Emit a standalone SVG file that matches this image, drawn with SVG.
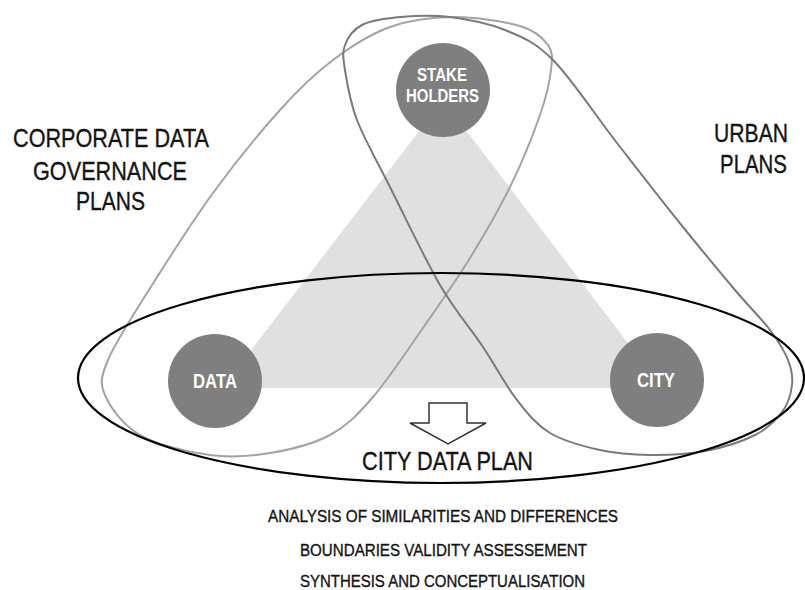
<svg xmlns="http://www.w3.org/2000/svg" width="805" height="590" viewBox="0 0 805 590">
<style>
.lbl{font-family:"Liberation Sans",Arial,sans-serif;fill:#141414;stroke:#141414;stroke-width:0.35;text-anchor:middle}
.big{font-size:25px}
.small{font-size:16px}
.node{fill:#7f7f7f}
.ntxt{font-family:"Liberation Sans",Arial,sans-serif;font-weight:bold;fill:#ffffff;text-anchor:middle}
.loopA{fill:none;stroke:#a3a3a3;stroke-width:2}
.loopB{fill:none;stroke:#7a7a7a;stroke-width:2}
</style>
<rect width="805" height="590" fill="#ffffff"/>
<polygon id="triangle" points="443,100 222,388 662,388" fill="#e0e0e0"/>
<g id="boundaries">
<path id="corporate-loop" class="loopA" d="M 453,17 C 474.7,16.8 504.2,21.3 520,26 C 535.8,30.7 542.8,37.7 548,45 C 553.2,52.3 552.3,58.3 551,70 C 549.7,81.7 546.8,95.5 540,115 C 533.2,134.5 521.7,163.2 510,187 C 498.3,210.8 484.2,235 470,258 C 455.8,281 441.2,301.8 425,325 C 408.8,348.2 388.8,378.7 373,397 C 357.2,415.3 347.2,425.7 330,435 C 312.8,444.3 290,449.7 270,453 C 250,456.3 231.7,458 210,455 C 188.3,452 157.5,445 140,435 C 122.5,425 110.3,407.5 105,395 C 99.7,382.5 101,377 108,360 C 115,343 129.5,320.8 147,293 C 164.5,265.2 190.8,223.5 213,193 C 235.2,162.5 260,132.2 280,110 C 300,87.8 314.7,73.8 333,60 C 351.3,46.2 370,34.2 390,27 C 410,19.8 431.3,17.2 453,17 Z"/>
<path id="urban-loop" class="loopB" d="M 450,17 C 467.5,19.2 487.8,22.8 505,30 C 522.2,37.2 534.3,41.2 553,60 C 571.7,78.8 595.3,115.2 617,143 C 638.7,170.8 663.3,202.5 683,227 C 702.7,251.5 720.5,272.8 735,290 C 749.5,307.2 761.2,318.3 770,330 C 778.8,341.7 784.3,350.8 788,360 C 791.7,369.2 793,376.3 792,385 C 791,393.7 788.2,403.7 782,412 C 775.8,420.3 767.8,428.5 755,435 C 742.2,441.5 722.5,447.7 705,451 C 687.5,454.3 667.5,455.2 650,455 C 632.5,454.8 616.7,453.7 600,450 C 583.3,446.3 563.8,441.3 550,433 C 536.2,424.7 528.2,414.3 517,400 C 505.8,385.7 495.8,366.2 483,347 C 470.2,327.8 455.5,311.7 440,285 C 424.5,258.3 403.8,214.5 390,187 C 376.2,159.5 364.5,139.5 357,120 C 349.5,100.5 347,82.5 345,70 C 343,57.5 342.2,52.5 345,45 C 347.8,37.5 352.8,29.7 362,25 C 371.2,20.3 385.3,18.3 400,17 C 414.7,15.7 432.5,14.8 450,17 Z"/>
<ellipse id="city-data-plan-ellipse" cx="441" cy="378" rx="363" ry="105" fill="none" stroke="#000000" stroke-width="2.2"/>
<polygon id="down-arrow" points="429,403 467,403 467,423 486,423 448,444 410,423 429,423" fill="#ffffff" stroke="#333333" stroke-width="1.5" stroke-linejoin="miter"/>
</g>
<g id="node-stakeholders">
<circle class="node" cx="443" cy="90" r="47"/>
<text class="ntxt" x="442" y="81" font-size="18.5" textLength="50" lengthAdjust="spacingAndGlyphs">STAKE</text>
<text class="ntxt" x="442.5" y="102" font-size="18.5" textLength="73" lengthAdjust="spacingAndGlyphs">HOLDERS</text>
</g>
<g id="node-data">
<circle class="node" cx="215" cy="381" r="47"/>
<text class="ntxt" x="215" y="388" font-size="20.5" textLength="44" lengthAdjust="spacingAndGlyphs">DATA</text>
</g>
<g id="node-city">
<circle class="node" cx="657" cy="380" r="47"/>
<text class="ntxt" x="656" y="387" font-size="20.5" textLength="38" lengthAdjust="spacingAndGlyphs">CITY</text>
</g>
<g id="labels">
<text class="lbl big" x="111" y="147" textLength="196" lengthAdjust="spacingAndGlyphs">CORPORATE DATA</text>
<text class="lbl big" x="110" y="180" textLength="154" lengthAdjust="spacingAndGlyphs">GOVERNANCE</text>
<text class="lbl big" x="110.5" y="210" textLength="69" lengthAdjust="spacingAndGlyphs">PLANS</text>
<text class="lbl big" x="751" y="142" textLength="74" lengthAdjust="spacingAndGlyphs">URBAN</text>
<text class="lbl big" x="753.5" y="173" textLength="67" lengthAdjust="spacingAndGlyphs">PLANS</text>
<text class="lbl big" x="447.5" y="470" textLength="171" lengthAdjust="spacingAndGlyphs">CITY DATA PLAN</text>
<text class="lbl small" x="443" y="522" textLength="350" lengthAdjust="spacingAndGlyphs">ANALYSIS OF SIMILARITIES AND DIFFERENCES</text>
<text class="lbl small" x="443.5" y="556" textLength="287" lengthAdjust="spacingAndGlyphs">BOUNDARIES VALIDITY ASSESSEMENT</text>
<text class="lbl small" x="442.5" y="587" textLength="285" lengthAdjust="spacingAndGlyphs">SYNTHESIS AND CONCEPTUALISATION</text>
</g>
</svg>
